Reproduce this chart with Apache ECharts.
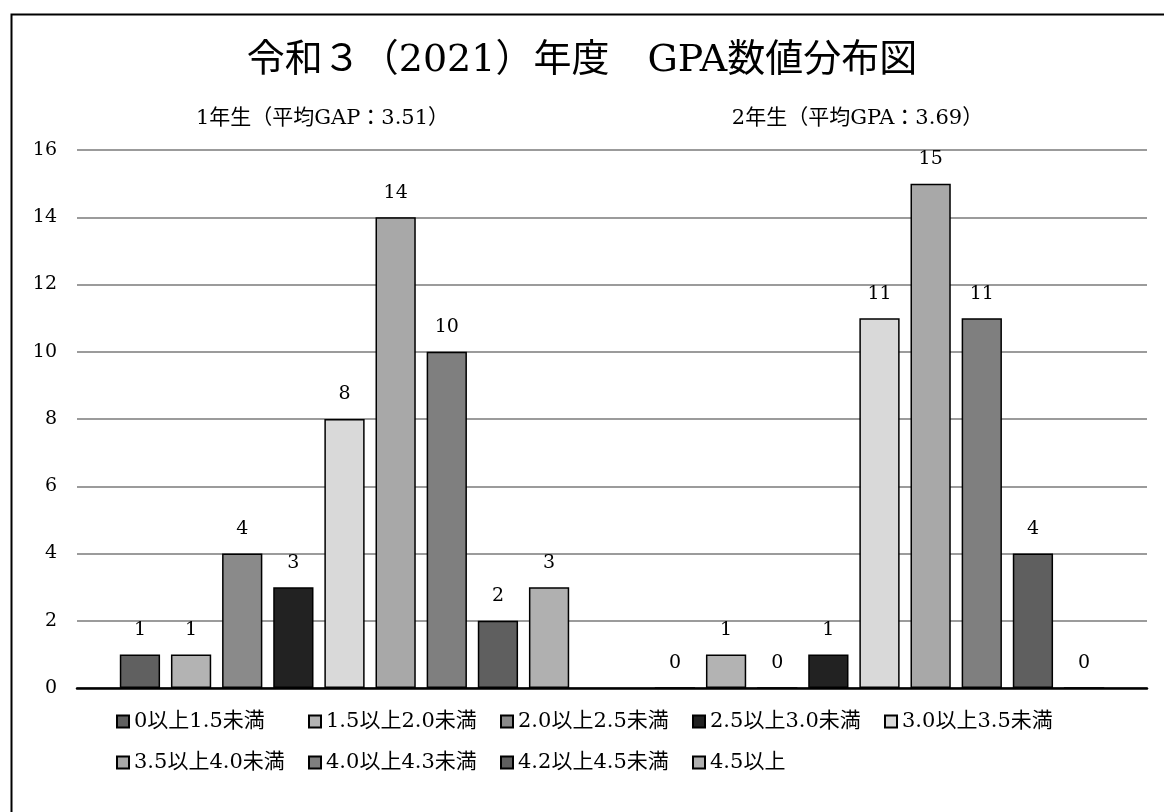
<!DOCTYPE html>
<html>
<head>
<meta charset="utf-8">
<script src="https://cdn.jsdelivr.net/npm/echarts@6/dist/echarts.min.js"></script>
<style>html,body{margin:0;padding:0;background:#fff;}#c{width:1164px;height:812px;}</style>
</head>
<body>
<div id="c"></div>
<script>
const titleText = '令和３（2021）年度　GPA数値分布図';
const categories = ['1年生（平均GAP：3.51）', '2年生（平均GPA：3.69）'];
const seriesNames = ['0以上1.5未満', '1.5以上2.0未満', '2.0以上2.5未満', '2.5以上3.0未満', '3.0以上3.5未満', '3.5以上4.0未満', '4.0以上4.3未満', '4.2以上4.5未満', '4.5以上'];
const grade1 = [1, 1, 4, 3, 8, 14, 10, 2, 3];
const grade2 = [0, 1, 0, 1, 11, 15, 11, 4, 0];
const colors = ['#606060', '#b3b3b3', '#8a8a8a', '#222222', '#d9d9d9', '#a8a8a8', '#7f7f7f', '#5f5f5f', '#b0b0b0'];
const yTicks = { min: 0, max: 16, interval: 2 };

const FONT = "'DejaVu Serif','Noto Sans CJK JP',serif";
const chart = echarts.init(document.getElementById('c'));
const series = seriesNames.map((name, i) => ({
  name: name,
  type: 'bar',
  xAxisIndex: 0,
  data: [grade1[i], grade2[i]],
  barGap: '27%',
  barCategoryGap: '16%',
  itemStyle: { color: colors[i], borderColor: '#000', borderWidth: 1.5 },
  label: { show: true, position: 'top', distance: 15, color: '#000', fontFamily: FONT, fontSize: 19 },
  emphasis: { disabled: true }
}));
chart.setOption({
  backgroundColor: '#fff',
  animation: false,
  graphic: [{ type: 'rect', left: 9, top: 12, shape: { width: 1200, height: 900 }, style: { fill: 'none', stroke: '#000', lineWidth: 2 }, z: 100 }],
  title: {
    text: titleText, left: 'center', top: 37,
    textStyle: { fontFamily: FONT, fontSize: 38, fontWeight: 'normal', color: '#000' }
  },
  legend: {
    left: 111, top: 698, width: 960,
    icon: 'rect',
    itemWidth: 12, itemHeight: 12, itemGap: 4,
    textStyle: { fontFamily: FONT, fontSize: 21, color: '#000', width: 170, lineHeight: 37 },
    data: seriesNames
  },
  grid: { left: 77, right: 17, top: 150, bottom: 124 },
  xAxis: [
    { type: 'category', data: categories, position: 'bottom',
      axisLine: { lineStyle: { color: '#000', width: 2.5 } }, axisTick: { show: false }, axisLabel: { show: false } },
    { type: 'category', data: categories, position: 'top',
      axisLine: { show: false }, axisTick: { show: false },
      axisLabel: { margin: 21, color: '#000', fontFamily: FONT, fontSize: 21, padding: [0, 44, 0, 0] } }
  ],
  yAxis: {
    type: 'value', min: yTicks.min, max: yTicks.max, interval: yTicks.interval,
    axisLine: { show: false }, axisTick: { show: false },
    axisLabel: { color: '#000', fontFamily: FONT, fontSize: 19, margin: 20 },
    splitLine: { lineStyle: { color: '#7a7a7a', width: 1.5 } }
  },
  series: series
});
</script>
</body>
</html>
